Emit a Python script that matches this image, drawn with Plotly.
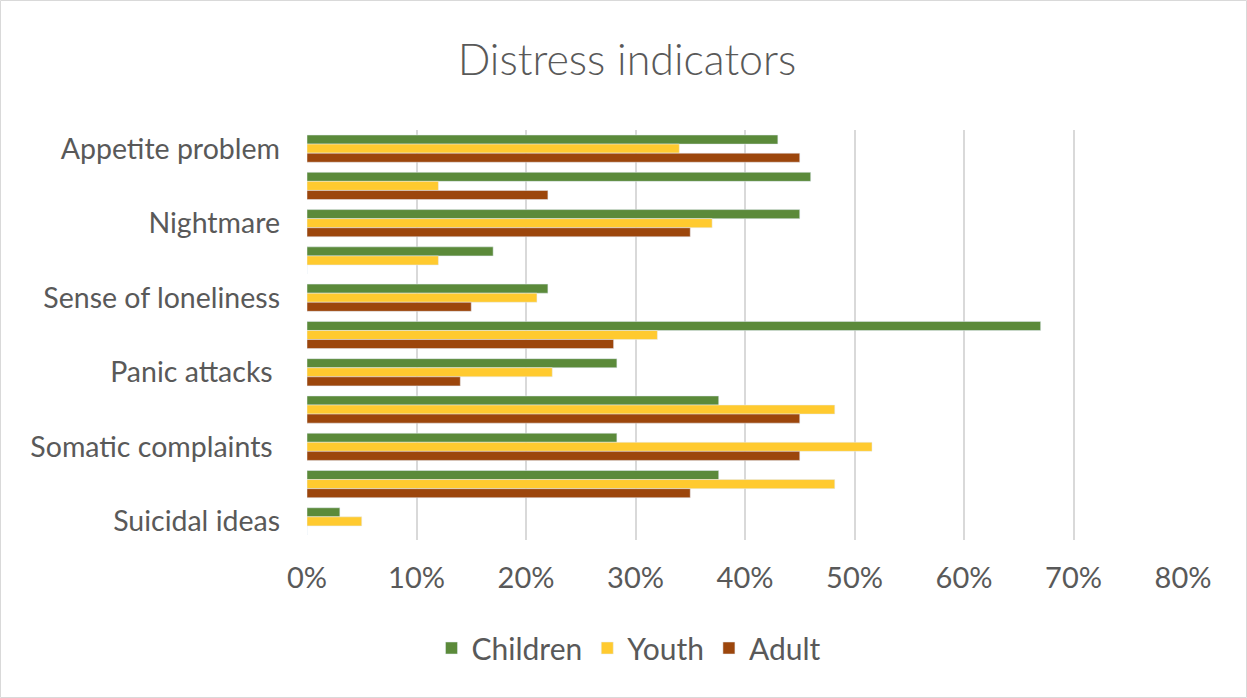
import plotly.graph_objects as go

categories = ["Appetite problem", "Hidden 2", "Nightmare", "Hidden 4", "Sense of loneliness",
              "Hidden 6", "Panic attacks", "Hidden 8", "Somatic complaints", "Hidden 10", "Suicidal ideas"]
tick_labels = ["Appetite problem", "", "Nightmare", "", "Sense of loneliness", "",
               "Panic attacks ", "", "Somatic complaints ", "", "Suicidal ideas"]
children = [0.43, 0.46, 0.45, 0.17, 0.22, 0.67, 0.283, 0.376, 0.283, 0.376, 0.03]
youth = [0.34, 0.12, 0.37, 0.12, 0.21, 0.32, 0.224, 0.482, 0.516, 0.482, 0.05]
adult = [0.45, 0.22, 0.35, 0.0, 0.15, 0.28, 0.14, 0.45, 0.45, 0.35, 0.0]
x_ticks = [0, 0.1, 0.2, 0.3, 0.4, 0.5, 0.6, 0.7, 0.8]

FONT = "Lato"
GREY = "#595959"

fig = go.Figure()
fig.add_trace(go.Bar(name="Children", y=categories, x=children, orientation="h",
                     marker=dict(color="#5B8A3A")))
fig.add_trace(go.Bar(name="Youth", y=categories, x=youth, orientation="h",
                     marker=dict(color="#FFCA2F")))
fig.add_trace(go.Bar(name="Adult", y=categories, x=adult, orientation="h",
                     marker=dict(color="#9C460C")))

W, H = 1247, 698
L, R, T, B = 307, 64, 130, 158
pw, ph = W - L - R, H - T - B

fig.update_layout(
    width=W, height=H,
    margin=dict(l=L, r=R, t=T, b=B),
    paper_bgcolor="white", plot_bgcolor="white",
    barmode="group", bargap=0.27, bargroupgap=0,
    font=dict(family=FONT, color=GREY),
    title=dict(text="Distress indicators", x=627 / W, xanchor="center",
               y=1 - 60 / H, yanchor="middle",
               font=dict(family=FONT, size=43, color=GREY, weight=300)),
    legend=dict(orientation="h", x=(629 - L) / pw, xanchor="center",
                y=(ph - (648 - T)) / ph, yanchor="middle",
                font=dict(family=FONT, size=30, color=GREY),
                itemwidth=30, traceorder="normal"),
    xaxis=dict(range=[0, 0.8], tickvals=x_ticks, tickformat=".0%",
               showgrid=True, gridcolor="#d9d9d9", gridwidth=2,
               zeroline=False, showline=False,
               tickfont=dict(family=FONT, size=29, color=GREY),
               ticks="", ticklabelstandoff=18),
    yaxis=dict(categoryorder="array", categoryarray=categories,
               autorange="reversed", tickvals=categories, ticktext=tick_labels,
               showgrid=False, zeroline=False, showline=False, ticks="",
               tickfont=dict(family=FONT, size=28.5, color=GREY),
               ticklabelstandoff=26),
    shapes=[dict(type="rect", xref="paper", yref="paper",
                 x0=(0.5 - L) / pw, x1=(W - 0.5 - L) / pw,
                 y0=-(H - 0.5 - T - ph) / ph, y1=(T - 0.5) / ph + 1,
                 line=dict(color="#d9d9d9", width=1), layer="below")],
)

fig.write_html("out.html")
